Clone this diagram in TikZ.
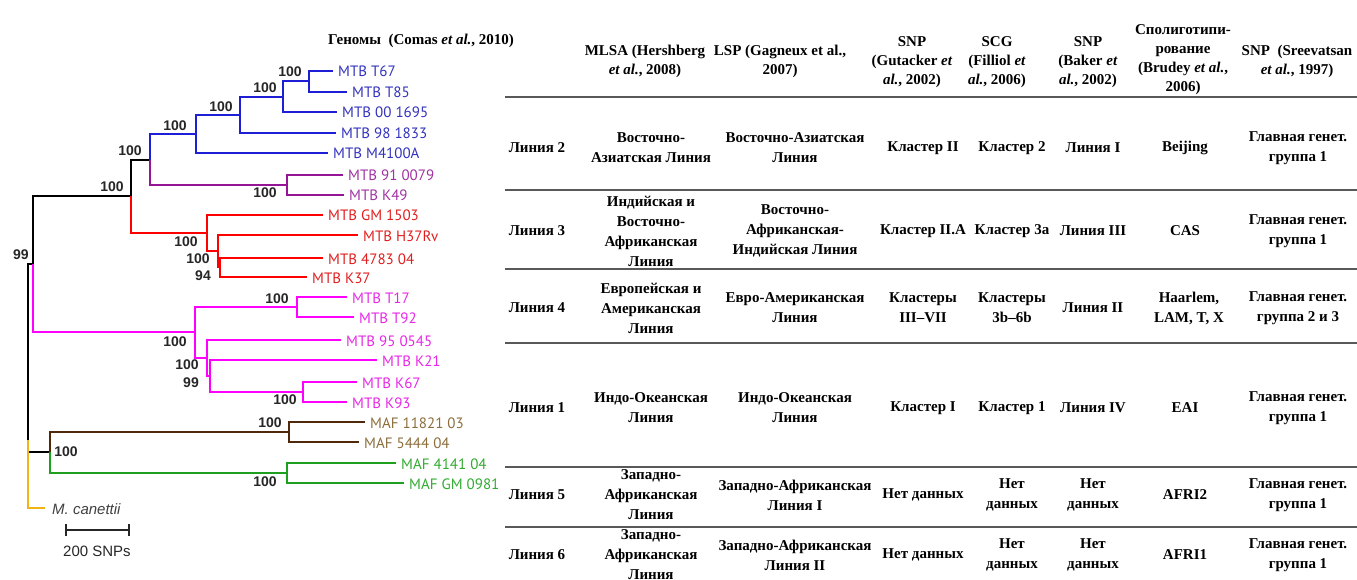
\documentclass[tikz,border=0pt]{standalone}
\usepackage{fontspec}
\setmainfont{Liberation Serif}
\newfontfamily\treefont{PT Sans}
\newfontfamily\bootfont{Liberation Sans}

\definecolor{mtbblue}{RGB}{30,30,215}
\definecolor{txtblue}{RGB}{50,50,190}
\definecolor{mtbpurple}{RGB}{150,20,150}
\definecolor{txtpurple}{RGB}{160,50,160}
\definecolor{mtbred}{RGB}{255,0,0}
\definecolor{txtred}{RGB}{225,30,30}
\definecolor{mtbmag}{RGB}{255,0,255}
\definecolor{txtmag}{RGB}{230,40,230}
\definecolor{mafbrown}{RGB}{80,40,10}
\definecolor{txtbrown}{RGB}{140,110,60}
\definecolor{mafgreen}{RGB}{30,160,30}
\definecolor{txtgreen}{RGB}{50,170,50}
\definecolor{canorange}{RGB}{240,180,20}

\tikzset{
  elbow/.style={to path={|- (\tikztotarget)}},
  branch/.style={draw, line width=2.4pt, elbow},
  leaf/.style={anchor=base west, inner sep=0pt, xshift=5pt, yshift=-6pt,
    font=\treefont\fontsize{15}{18}\selectfont},
  boot/.style={inner sep=0pt, text=black!85,
    font=\bootfont\bfseries\fontsize{14}{16}\selectfont},
  cell/.style={align=center, inner sep=0pt,
    font=\bfseries\fontsize{15}{20}\selectfont},
  head/.style={align=center, inner sep=0pt,
    font=\bfseries\fontsize{15}{19}\selectfont},
  tabrule/.style={line width=1.8pt, black!65},
}

\begin{document}
\begin{tikzpicture}[x=1pt,y=-1pt]
\useasboundingbox (0,0) rectangle (1357,580);

        % inner nodes of the tree
        \coordinate (root)  at (28,440);
        \coordinate (n99)   at (33,264);
        \coordinate (nMTB)  at (131,196);
        \coordinate (nL2)   at (150,160);
        \coordinate (nM41)  at (196,134);
        \coordinate (n98)   at (240,115);
        \coordinate (n00)   at (283,97);
        \coordinate (nT67)  at (309,81);
        \coordinate (n91)   at (287,185);
        \coordinate (nGM)   at (207,233);
        \coordinate (nH37)  at (218,251);
        \coordinate (n4783) at (220,267);
        \coordinate (nL4)   at (195,332);
        \coordinate (nT17)  at (297,307);
        \coordinate (n95)   at (207,358);
        \coordinate (nK21)  at (210,376);
        \coordinate (nK67)  at (303,392);
        \coordinate (nMAF)  at (50,452);
        \coordinate (nMAF1) at (289,432);
        \coordinate (nMAF2) at (287,473);

        % tips of the branches
        \coordinate (tT67)  at (333,71);
        \coordinate (tT85)  at (347,92);
        \coordinate (t00)   at (337,112);
        \coordinate (t98)   at (336,133);
        \coordinate (tM41)  at (328,153);
        \coordinate (t91)   at (343,175);
        \coordinate (tK49)  at (344,195);
        \coordinate (tGM)   at (323,215);
        \coordinate (tH37)  at (358,235);
        \coordinate (t4783) at (323,258);
        \coordinate (tK37)  at (307,277);
        \coordinate (tT17)  at (347,297);
        \coordinate (tT92)  at (354,317);
        \coordinate (t95)   at (341,340);
        \coordinate (tK21)  at (377,360);
        \coordinate (tK67)  at (357,382);
        \coordinate (tK93)  at (347,402);
        \coordinate (t1182) at (365,422);
        \coordinate (t5444) at (359,442);
        \coordinate (t4141) at (396,463);
        \coordinate (tGM09) at (404,483);
        \coordinate (tcan)  at (45,508);

        \begin{scope}[every node/.style={leaf}]
          \node[text=txtblue]   (lT67)  at (tT67)  {MTB T67};
          \node[text=txtblue]   (lT85)  at (tT85)  {MTB T85};
          \node[text=txtblue]   (l00)   at (t00)   {MTB 00 1695};
          \node[text=txtblue]   (l98)   at (t98)   {MTB 98 1833};
          \node[text=txtblue]   (lM41)  at (tM41)  {MTB M4100A};
          \node[text=txtpurple] (l91)   at (t91)   {MTB 91 0079};
          \node[text=txtpurple] (lK49)  at (tK49)  {MTB K49};
          \node[text=txtred]    (lGM)   at (tGM)   {MTB GM 1503};
          \node[text=txtred]    (lH37)  at (tH37)  {MTB H37Rv};
          \node[text=txtred]    (l4783) at (t4783) {MTB 4783 04};
          \node[text=txtred]    (lK37)  at (tK37)  {MTB K37};
          \node[text=txtmag]    (lT17)  at (tT17)  {MTB T17};
          \node[text=txtmag]    (lT92)  at (tT92)  {MTB T92};
          \node[text=txtmag]    (l95)   at (t95)   {MTB 95 0545};
          \node[text=txtmag]    (lK21)  at (tK21)  {MTB K21};
          \node[text=txtmag]    (lK67)  at (tK67)  {MTB K67};
          \node[text=txtmag]    (lK93)  at (tK93)  {MTB K93};
          \node[text=txtbrown]  (l1182) at (t1182) {MAF 11821 03};
          \node[text=txtbrown]  (l5444) at (t5444) {MAF 5444 04};
          \node[text=txtgreen]  (l4141) at (t4141) {MAF 4141 04};
          \node[text=txtgreen]  (lGM09) at (tGM09) {MAF GM 0981};
          \node[text=black!75, font=\bootfont\itshape\fontsize{15}{18}\selectfont,
                xshift=2pt] (lcan) at (tcan) {M. canettii};
        \end{scope}

        % branches
        \begin{scope}[every edge/.style={branch}]
          \path (root) edge (n99) edge (nMAF);
          \path (n99) edge (nMTB) edge[mtbmag] (nL4);
          \path (nMTB) edge (nL2) edge[mtbred] (nGM);
          \path (root) edge[canorange] (tcan);
        \end{scope}
        \begin{scope}[every edge/.style={branch, mtbblue}]
          \path (nL2) edge (nM41) edge[mtbpurple] (n91);
          \path (nM41) edge (n98) edge (tM41);
          \path (n98) edge (n00) edge (t98);
          \path (n00) edge (nT67) edge (t00);
          \path (nT67) edge (tT67) edge (tT85);
        \end{scope}
        \begin{scope}[every edge/.style={branch, mtbpurple}]
          \path (n91) edge (t91) edge (tK49);
        \end{scope}
        \begin{scope}[every edge/.style={branch, mtbred}]
          \path (nGM) edge (tGM) edge (nH37);
          \path (nH37) edge (tH37) edge (n4783);
          \path (n4783) edge (t4783) edge (tK37);
        \end{scope}
        \begin{scope}[every edge/.style={branch, mtbmag}]
          \path (nL4) edge (nT17) edge (n95);
          \path (nT17) edge (tT17) edge (tT92);
          \path (n95) edge (t95) edge (nK21);
          \path (nK21) edge (tK21) edge (nK67);
          \path (nK67) edge (tK67) edge (tK93);
        \end{scope}
        \begin{scope}[every edge/.style={branch}]
          \path (nMAF) edge[mafbrown] (nMAF1) edge[mafgreen] (nMAF2);
          \path (nMAF1) edge[mafbrown] (t1182) edge[mafbrown] (t5444);
          \path (nMAF2) edge[mafgreen] (t4141) edge[mafgreen] (tGM09);
        \end{scope}

        % bootstrap values
        \begin{scope}[every node/.style={boot}]
          \node (b1)  at (290,72)  {100};
          \node (b2)  at (265,88)  {100};
          \node (b3)  at (221,107) {100};
          \node (b4)  at (175,126) {100};
          \node (b5)  at (265,193) {100};
          \node (b6)  at (130,151) {100};
          \node (b7)  at (112,187) {100};
          \node (b8)  at (186,242) {100};
          \node (b9)  at (198,259) {100};
          \node (b10) at (203,276) {94};
          \node (b11) at (21,255)  {99};
          \node (b12) at (277,299) {100};
          \node (b13) at (175,342) {100};
          \node (b14) at (187,365) {100};
          \node (b15) at (191,383) {99};
          \node (b16) at (285,400) {100};
          \node (b17) at (270,423) {100};
          \node (b18) at (66,452)  {100};
          \node (b19) at (265,482) {100};
        \end{scope}

        % scale bar
        \coordinate (sb1) at (65,530);
        \coordinate (sb2) at (130,530);
        \draw[|-|, line width=2pt, black!85] (sb1) -- (sb2);
        \node[font=\bootfont\fontsize{15}{18}\selectfont, text=black!85]
          (sbl) at (97,551) {200 SNPs};

        % table head
        \begin{scope}[every node/.style={head}]
          \node[anchor=west] (h0) at (328,41) {Геномы \ (Comas \textit{et al.}, 2010)};
          \node (h1) at (645,61)  {MLSA (Hershberg\\\textit{et al.}, 2008)};
          \node (h2) at (780,61)  {LSP (Gagneux et al.,\\2007)};
          \node (h3) at (912,62)  {SNP\\(Gutacker \textit{et}\\\textit{al.}, 2002)};
          \node (h4) at (997,62)  {SCG\\(Filliol \textit{et}\\\textit{al.}, 2006)};
          \node (h5) at (1088,62) {SNP\\(Baker \textit{et}\\\textit{al.}, 2002)};
          \node (h6) at (1183,60) {Сполиготипи-\\рование\\(Brudey \textit{et al.},\\2006)};
          \node (h7) at (1297,61) {SNP \ (Sreevatsan\\\textit{et al.}, 1997)};
        \end{scope}

        % rules
        \foreach \y in {97,190,269,343,467,527}
          \draw[tabrule] (505,\y) -- (1357,\y);

        % table body
        \begin{scope}[every node/.style={cell}]
          \node (r2c0) at (537,148)  {Линия 2};
          \node (r2c1) at (651,148)  {Восточно-\\Азиатская Линия};
          \node (r2c2) at (795,148)  {Восточно-Азиатская\\Линия};
          \node (r2c3) at (923,148)  {Кластер II};
          \node (r2c4) at (1012,148) {Кластер 2};
          \node (r2c5) at (1093,148) {Линия I};
          \node (r2c6) at (1185,148) {Beijing};
          \node (r2c7) at (1298,148) {Главная генет.\\группа 1};

          \node (r3c0) at (537,231)  {Линия 3};
          \node (r3c1) at (651,231)  {Индийская и\\Восточно-\\Африканская\\Линия};
          \node (r3c2) at (795,231)  {Восточно-\\Африканская-\\Индийская Линия};
          \node (r3c3) at (923,231)  {Кластер II.A};
          \node (r3c4) at (1012,231) {Кластер 3a};
          \node (r3c5) at (1093,231) {Линия III};
          \node (r3c6) at (1185,231) {CAS};
          \node (r3c7) at (1298,231) {Главная генет.\\группа 1};

          \node (r4c0) at (537,308)  {Линия 4};
          \node (r4c1) at (651,308)  {Европейская и\\Американская\\Линия};
          \node (r4c2) at (795,308)  {Евро-Американская\\Линия};
          \node (r4c3) at (923,308)  {Кластеры\\III–VII};
          \node (r4c4) at (1012,308) {Кластеры\\3b–6b};
          \node (r4c5) at (1093,308) {Линия II};
          \node (r4c6) at (1189,308) {Haarlem,\\LAM, T, X};
          \node (r4c7) at (1298,308) {Главная генет.\\группа 2 и 3};

          \node (r1c0) at (537,408)  {Линия 1};
          \node (r1c1) at (651,408)  {Индо-Океанская\\Линия};
          \node (r1c2) at (795,408)  {Индо-Океанская\\Линия};
          \node (r1c3) at (923,408)  {Кластер I};
          \node (r1c4) at (1012,408) {Кластер 1};
          \node (r1c5) at (1093,408) {Линия IV};
          \node (r1c6) at (1185,408) {EAI};
          \node (r1c7) at (1298,408) {Главная генет.\\группа 1};

          \node (r5c0) at (537,495)  {Линия 5};
          \node (r5c1) at (651,495)  {Западно-\\Африканская\\Линия};
          \node (r5c2) at (795,495)  {Западно-Африканская\\Линия I};
          \node (r5c3) at (923,495)  {Нет данных};
          \node (r5c4) at (1012,495) {Нет\\данных};
          \node (r5c5) at (1093,495) {Нет\\данных};
          \node (r5c6) at (1185,495) {AFRI2};
          \node (r5c7) at (1298,495) {Главная генет.\\группа 1};

          \node (r6c0) at (537,555)  {Линия 6};
          \node (r6c1) at (651,555)  {Западно-\\Африканская\\Линия};
          \node (r6c2) at (795,555)  {Западно-Африканская\\Линия II};
          \node (r6c3) at (923,555)  {Нет данных};
          \node (r6c4) at (1012,555) {Нет\\данных};
          \node (r6c5) at (1093,555) {Нет\\данных};
          \node (r6c6) at (1185,555) {AFRI1};
          \node (r6c7) at (1298,555) {Главная генет.\\группа 1};
        \end{scope}

\end{tikzpicture}
\end{document}
